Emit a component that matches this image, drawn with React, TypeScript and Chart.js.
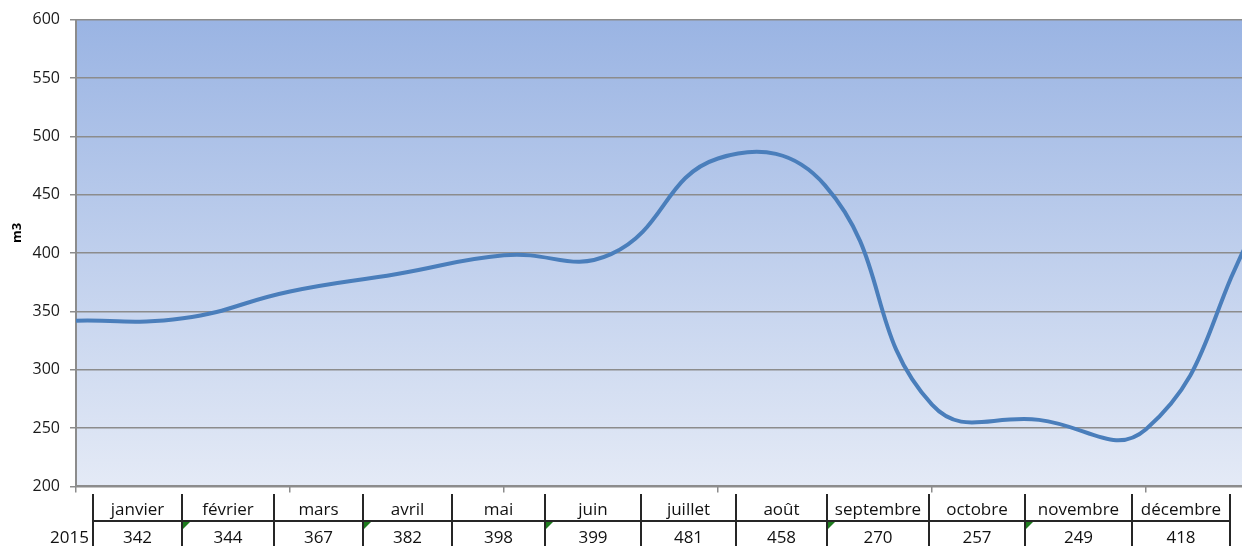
import React, { useEffect, useRef } from "react";
import { Chart, registerables } from "chart.js";
Chart.register(...registerables);

const months = ["janvier", "février", "mars", "avril", "mai", "juin", "juillet", "août", "septembre", "octobre", "novembre", "décembre"];
const values2015 = [342, 344, 367, 382, 398, 399, 481, 458, 270, 257, 249, 418];
const seriesLabel = "2015";
const yMin = 200;
const yMax = 600;
const yStep = 50;
const yTitle = "m3";
// table cells that show Excel's green "number stored as text" marker
const flaggedCells = [1, 3, 5, 8, 10];
// spreadsheet column widths (layout only)
const firstColWidth = 93;
const columnWidths = [89, 92, 89, 89, 93, 96, 95, 91, 102, 96, 107, 98];

const FONT = "'Open Sans', 'DejaVu Sans', sans-serif";

const bgPlugin = {
  id: "plotBg",
  beforeDraw(chart: any) {
    const { ctx, chartArea } = chart;
    if (!chartArea) return;
    const g = ctx.createLinearGradient(0, chartArea.top, 0, chartArea.bottom);
    g.addColorStop(0, "#9AB4E3");
    g.addColorStop(1, "#E4EAF6");
    ctx.save();
    ctx.fillStyle = g;
    ctx.fillRect(chartArea.left, chartArea.top, chartArea.right - chartArea.left, chartArea.bottom - chartArea.top);
    ctx.restore();
  },
  afterDraw(chart: any) {
    const { ctx, chartArea } = chart;
    if (!chartArea) return;
    ctx.save();
    ctx.translate(17, (chartArea.top + chartArea.bottom) / 2 - 20);
    ctx.rotate(-Math.PI / 2);
    ctx.font = "bold 13px " + FONT;
    ctx.fillStyle = "#000";
    ctx.textAlign = "center";
    ctx.textBaseline = "middle";
    ctx.fillText(yTitle, 0, 0);
    ctx.restore();
  },
};

export default function App() {
  const ref = useRef<HTMLCanvasElement | null>(null);

  useEffect(() => {
    if (!ref.current) return;
    const chart = new Chart(ref.current, {
      type: "line",
      data: {
        labels: months,
        datasets: [
          {
            label: seriesLabel,
            data: values2015,
            borderColor: "#4A7EBB",
            borderWidth: 4,
            pointRadius: 0,
            tension: 0.45,
            fill: false,
          },
        ],
      },
      options: {
        responsive: false,
        animation: false,
        devicePixelRatio: 1,
        layout: { padding: { top: 18, right: 7, bottom: 2, left: 0 } },
        plugins: { legend: { display: false }, tooltip: { enabled: false } },
        scales: {
          x: {
            offset: false,
            grid: {
              drawOnChartArea: false,
              drawTicks: true,
              tickLength: 6,
              lineWidth: 1.5,
              color: (c: any) => (c.index % 2 === 0 ? "#8C8C8C" : "rgba(0,0,0,0)"),
            },
            border: { display: true, color: "#8C8C8C", width: 2 },
            ticks: { display: false },
          },
          y: {
            min: yMin,
            max: yMax,
            ticks: {
              stepSize: yStep,
              padding: 10,
              color: "#1a1a1a",
              font: { family: FONT, size: 16 },
            },
            grid: { color: "#8C8C8C", lineWidth: 1.5, tickLength: 6 },
            border: { display: true, color: "#8C8C8C", width: 2 },
            afterFit: (s: any) => {
              s.width = 76;
            },
          },
        },
      } as any,
      plugins: [bgPlugin],
    });
    return () => chart.destroy();
  }, []);

  const lineColor = "#262626";
  const vLines: number[] = [firstColWidth];
  let acc = firstColWidth;
  const lefts: number[] = [];
  columnWidths.forEach((w) => {
    lefts.push(acc);
    acc += w;
    vLines.push(acc);
  });
  const tableRight = acc;

  const cellText: React.CSSProperties = {
    position: "absolute",
    fontFamily: FONT,
    fontSize: 17,
    color: "#111",
    textAlign: "center",
    lineHeight: "26px",
    whiteSpace: "nowrap",
  };

  return (
    <div
      style={{
        position: "fixed",
        left: 0,
        top: 0,
        width: 1242,
        height: 546,
        overflow: "hidden",
        background: "#fff",
      }}
    >
      <canvas
        ref={ref}
        width={1260}
        height={506}
        style={{ position: "absolute", left: 0, top: 0, width: 1260, height: 506 }}
      />
      <div
        style={{
          position: "absolute",
          left: firstColWidth,
          top: 520,
          width: tableRight - firstColWidth + 1,
          height: 2,
          background: lineColor,
        }}
      />
      {vLines.map((x, i) => (
        <div
          key={"v" + i}
          style={{ position: "absolute", left: x - 1, top: 494, width: 2, height: 60, background: lineColor }}
        />
      ))}
      <div style={{ ...cellText, left: 0, top: 524, width: firstColWidth - 4, textAlign: "right" }}>{seriesLabel}</div>
      {months.map((m, i) => (
        <div key={"h" + i} style={{ ...cellText, left: lefts[i], top: 496, width: columnWidths[i] }}>
          {m}
        </div>
      ))}
      {values2015.map((v, i) => (
        <div key={"d" + i} style={{ ...cellText, left: lefts[i], top: 524, width: columnWidths[i] }}>
          {v}
        </div>
      ))}
      {flaggedCells.map((i) => (
        <div
          key={"f" + i}
          style={{
            position: "absolute",
            left: lefts[i] + 1,
            top: 522,
            width: 0,
            height: 0,
            borderTop: "7px solid #1E7B1E",
            borderRight: "7px solid transparent",
          }}
        />
      ))}
    </div>
  );
}
